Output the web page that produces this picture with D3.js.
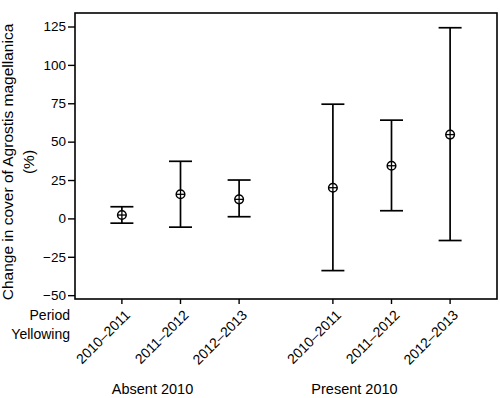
<!DOCTYPE html>
<html>
<head>
<meta charset="utf-8">
<script src="https://cdn.jsdelivr.net/npm/d3@7"></script>
<style>
    body { margin: 0; background: #fff; }
    text { font-family: "Liberation Sans", Arial, sans-serif; fill: #000; }
</style>
</head>
<body>
<div id="chart"></div>
<script>
// groups along the x axis, each holding the same three periods
var groupNames = ["Absent 2010", "Present 2010"];
var periodNames = ["2010\u20132011", "2011\u20132012", "2012\u20132013"];

// change in cover (%), mean with lower / upper interval, by group then period
var meanAbsent = [2.2, 15.7, 12.4];
var lowerAbsent = [-3.1, -5.7, 1.1];
var upperAbsent = [7.6, 37.2, 25.0];

var meanPresent = [20.0, 34.3, 54.6];
var lowerPresent = [-34.0, 5.0, -14.4];
var upperPresent = [74.4, 64.0, 124.2];

var yTicks = [-50, -25, 0, 25, 50, 75, 100, 125];

function makeChart() {
    var margin = { top: 13, right: 3, bottom: 99, left: 75 };
    var width = 500 - margin.left - margin.right;
    var height = 398 - margin.top - margin.bottom;

    var svg = d3.select("#chart")
        .append("svg")
        .attr("width", width + margin.left + margin.right)
        .attr("height", height + margin.top + margin.bottom)
        .append("g")
        .attr("transform",
              "translate(" + margin.left + "," + margin.top + ")");

    var rows = [];
    periodNames.forEach(function(p, i) {
        rows.push({ group: groupNames[0], period: p,
                    mean: meanAbsent[i], lo: lowerAbsent[i], hi: upperAbsent[i] });
    });
    periodNames.forEach(function(p, i) {
        rows.push({ group: groupNames[1], period: p,
                    mean: meanPresent[i], lo: lowerPresent[i], hi: upperPresent[i] });
    });

    var x0 = d3.scaleBand()
        .range([0, width])
        .domain(groupNames)
        .padding(0);

    var x1 = d3.scalePoint()
        .range([0, x0.bandwidth()])
        .domain(periodNames)
        .padding(0.8);

    var xPos = d => x0(d.group) + x1(d.period);

    var y = d3.scaleLinear()
        .domain([-52.5, 133.8])
        .range([height, 0]);

    // y axis
    var yAxis = svg.append("g")
        .call(d3.axisLeft(y).tickValues(yTicks).tickSize(7).tickPadding(2));
    yAxis.select(".domain").remove();
    yAxis.selectAll("line").attr("stroke", "#000").attr("stroke-width", 1.4);
    yAxis.selectAll("text")
        .style("font-size", "13.5px")
        .attr("fill", "#000");

    // ticks under the plot at each period
    svg.append("g")
        .selectAll("line")
        .data(rows)
        .enter()
        .append("line")
        .attr("x1", xPos)
        .attr("x2", xPos)
        .attr("y1", height)
        .attr("y2", height + 5)
        .attr("stroke", "#000")
        .attr("stroke-width", 1.4);

    // frame
    svg.append("rect")
        .attr("width", width)
        .attr("height", height)
        .attr("fill", "none")
        .attr("stroke", "#000")
        .attr("stroke-width", 1.6);

    // error bars
    var bars = svg.append("g")
        .selectAll("g")
        .data(rows)
        .enter()
        .append("g")
        .attr("stroke", "#000")
        .attr("stroke-width", 1.7)
        .attr("fill", "none");

    var capHalf = 11.5;

    bars.append("line")
        .attr("x1", xPos).attr("x2", xPos)
        .attr("y1", d => y(d.lo)).attr("y2", d => y(d.hi));
    bars.append("line")
        .attr("x1", d => xPos(d) - capHalf).attr("x2", d => xPos(d) + capHalf)
        .attr("y1", d => y(d.hi)).attr("y2", d => y(d.hi));
    bars.append("line")
        .attr("x1", d => xPos(d) - capHalf).attr("x2", d => xPos(d) + capHalf)
        .attr("y1", d => y(d.lo)).attr("y2", d => y(d.lo));

    // mean marker: circle with a cross
    bars.append("circle")
        .attr("cx", xPos)
        .attr("cy", d => y(d.mean))
        .attr("r", 4.3)
        .attr("fill", "#fff")
        .attr("stroke-width", 1.5);
    bars.append("line")
        .attr("x1", d => xPos(d) - 4.3).attr("x2", d => xPos(d) + 4.3)
        .attr("y1", d => y(d.mean)).attr("y2", d => y(d.mean))
        .attr("stroke-width", 1.3);
    bars.append("line")
        .attr("x1", xPos).attr("x2", xPos)
        .attr("y1", d => y(d.mean) - 4.3).attr("y2", d => y(d.mean) + 4.3)
        .attr("stroke-width", 1.3);

    // rotated period labels
    svg.append("g")
        .selectAll("text")
        .data(rows)
        .enter()
        .append("text")
        .attr("transform", d => "translate(" + (xPos(d) + 9) + "," + (height + 17) + ") rotate(-45)")
        .attr("text-anchor", "end")
        .style("font-size", "14px")
        .text(d => d.period);

    // row labels at left of the period labels
    svg.append("text")
        .attr("x", -5)
        .attr("y", height + 21)
        .attr("text-anchor", "end")
        .style("font-size", "14px")
        .text("Period");
    svg.append("text")
        .attr("x", -5)
        .attr("y", height + 40)
        .attr("text-anchor", "end")
        .style("font-size", "14px")
        .text("Yellowing");

    // group labels sit a little left of each group's centre
    var groupShift = { "Absent 2010": -28, "Present 2010": -37 };
    svg.append("g")
        .selectAll("text")
        .data(groupNames)
        .enter()
        .append("text")
        .attr("x", d => x0(d) + x0.bandwidth() / 2 + groupShift[d])
        .attr("y", height + 95)
        .attr("text-anchor", "middle")
        .style("font-size", "14.5px")
        .text(d => d);

    // y axis title, two lines
    var title = svg.append("text")
        .attr("transform", "translate(" + (-62) + "," + (height / 2 + 6) + ") rotate(-90)")
        .attr("text-anchor", "middle")
        .style("font-size", "15.5px");
    title.append("tspan")
        .attr("x", 0)
        .attr("y", 0)
        .text("Change in cover of Agrostis magellanica");
    title.append("tspan")
        .attr("x", 0)
        .attr("y", 21)
        .text("(%)");
}

makeChart();
</script>
</body>
</html>
